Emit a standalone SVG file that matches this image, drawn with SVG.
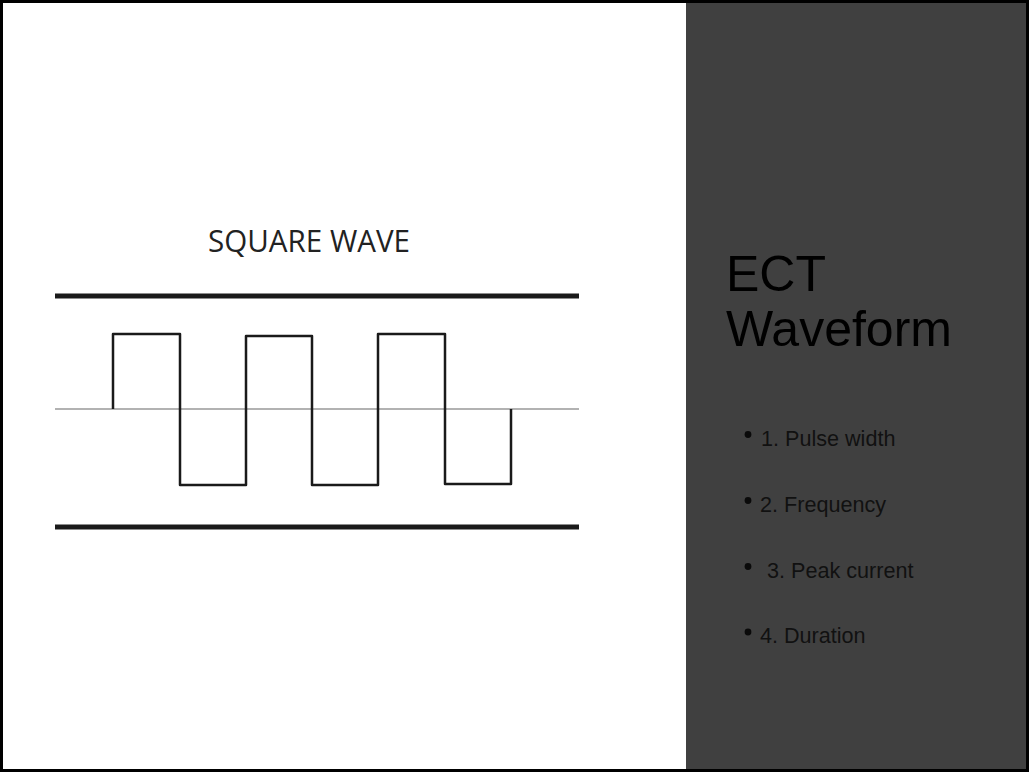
<svg xmlns="http://www.w3.org/2000/svg" width="1029" height="772" viewBox="0 0 1029 772">
<style>
.bar{stroke:#1a1a1a;stroke-width:5;fill:none}
.wave{stroke:#1a1a1a;stroke-width:2.5;fill:none;stroke-linejoin:round}
.axis{stroke:#999;stroke-width:1.3}
.title{font-family:"Liberation Sans",Arial,sans-serif;font-size:50px;fill:#000}
.item{font-family:"Liberation Sans",Arial,sans-serif;font-size:21.6px;fill:#111}
.dot{fill:#0a0a0a}
</style>
<rect x="0" y="0" width="1029" height="772" fill="#fff"/>
<rect x="686" y="3" width="340" height="766" fill="#404040"/>
<rect x="1.5" y="1.5" width="1026" height="769" fill="none" stroke="#000" stroke-width="3"/>
<g id="wave-figure">
<text x="309" y="252" text-anchor="middle" font-family="'Open Sans','Noto Sans',sans-serif" font-size="31" fill="#222" textLength="202" lengthAdjust="spacingAndGlyphs">SQUARE WAVE</text>
<line class="bar" x1="55" y1="296" x2="579" y2="296"/>
<line class="bar" x1="55" y1="527" x2="579" y2="527"/>
<line class="axis" x1="55" y1="409" x2="579" y2="409"/>
<path class="wave" d="M113,409 V334 H180 V485 H246 V336 H312 V485 H378 V334 H445 V484 H511 V409"/>
</g>
<g id="panel">
<text class="title" x="726" y="291">ECT</text>
<text class="title" x="726" y="346">Waveform</text>
<circle class="dot" cx="748" cy="434.5" r="3.4"/>
<text class="item" x="761" y="446">1. Pulse width</text>
<circle class="dot" cx="748" cy="500.5" r="3.4"/>
<text class="item" x="760" y="512">2. Frequency</text>
<circle class="dot" cx="748" cy="566.5" r="3.4"/>
<text class="item" x="767" y="578">3. Peak current</text>
<circle class="dot" cx="748" cy="632" r="3.4"/>
<text class="item" x="760" y="643">4. Duration</text>
</g>
</svg>
